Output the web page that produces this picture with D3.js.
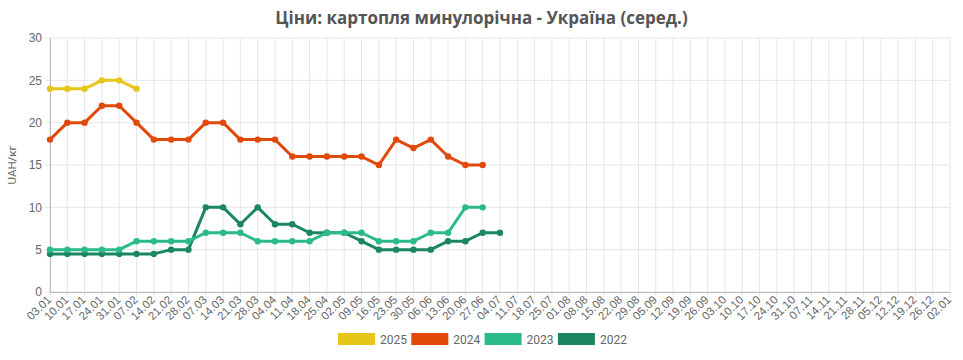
<!DOCTYPE html>
<html>
<head>
<meta charset="utf-8">
<script src="https://cdn.jsdelivr.net/npm/d3@7"></script>
<style>
  body { margin: 0; background: #fff; }
  svg { display: block; font-family: Roboto, "Open Sans", sans-serif; }
  .grid line { stroke: #e6e6e6; stroke-width: 1; }
  .tick text { fill: #666; }
</style>
</head>
<body>
<div id="chart"></div>
<script>
// categories: weekly dates
var weeks = ["03.01","10.01","17.01","24.01","31.01","07.02","14.02","21.02","28.02","07.03",
  "14.03","21.03","28.03","04.04","11.04","18.04","25.04","02.05","09.05","16.05",
  "23.05","30.05","06.06","13.06","20.06","27.06","04.07","11.07","18.07","25.07",
  "01.08","08.08","15.08","22.08","29.08","05.09","12.09","19.09","26.09","03.10",
  "10.10","17.10","24.10","31.10","07.11","14.11","21.11","28.11","05.12","12.12",
  "19.12","26.12","02.01"];

var years = ["2025", "2024", "2023", "2022"];
var colors = ["#e5c619", "#e3480b", "#2bbb89", "#1b8662"];

var v2025 = [24, 24, 24, 25, 25, 24];
var v2024 = [18, 20, 20, 22, 22, 20, 18, 18, 18, 20, 20, 18, 18, 18, 16, 16, 16, 16, 16, 15, 18, 17, 18, 16, 15, 15];
var v2023 = [5, 5, 5, 5, 5, 6, 6, 6, 6, 7, 7, 7, 6, 6, 6, 6, 7, 7, 7, 6, 6, 6, 7, 7, 10, 10];
var v2022 = [4.5, 4.5, 4.5, 4.5, 4.5, 4.5, 4.5, 5, 5, 10, 10, 8, 10, 8, 8, 7, 7, 7, 6, 5, 5, 5, 5, 6, 6, 7, 7];

var yTicks = [0, 5, 10, 15, 20, 25, 30];

var series = [v2025, v2024, v2023, v2022].map(function(vals, i) {
  return { name: years[i], color: colors[i], values: vals };
});

var W = 963, H = 360;
var margin = { top: 38, right: 13, bottom: 68, left: 50 };

var svg = d3.select("#chart").append("svg")
  .attr("width", W)
  .attr("height", H);

var x = d3.scalePoint()
  .domain(weeks)
  .range([margin.left, W - margin.right]);

var y = d3.scaleLinear()
  .domain([0, 30])
  .range([H - margin.bottom, margin.top]);

// title
svg.append("text")
  .attr("x", W / 2)
  .attr("y", 24)
  .attr("text-anchor", "middle")
  .style("font-family", "'Open Sans', sans-serif")
  .style("font-weight", "700")
  .style("font-size", "17px")
  .style("fill", "#555")
  .text("Ціни: картопля минулорічна - Україна (серед.)");

// grid
var grid = svg.append("g").attr("class", "grid");
grid.selectAll("line.v")
  .data(weeks)
  .enter().append("line")
  .attr("x1", function(d) { return x(d); })
  .attr("x2", function(d) { return x(d); })
  .attr("y1", margin.top)
  .attr("y2", H - margin.bottom + 5);
grid.selectAll("line.h")
  .data(yTicks)
  .enter().append("line")
  .attr("x1", margin.left - 5)
  .attr("x2", W - margin.right)
  .attr("y1", function(d) { return y(d); })
  .attr("y2", function(d) { return y(d); });

// axes
var yAxis = svg.append("g")
  .attr("transform", "translate(" + margin.left + ",0)")
  .call(d3.axisLeft(y).tickValues(yTicks).tickSize(0).tickPadding(8));
yAxis.select(".domain").attr("stroke", "#bbb");
yAxis.selectAll("text").style("font-size", "12px");

var xAxis = svg.append("g")
  .attr("transform", "translate(0," + (H - margin.bottom) + ")")
  .call(d3.axisBottom(x).tickSize(0));
xAxis.select(".domain").attr("stroke", "#bbb");
xAxis.selectAll("text")
  .style("font-size", "11.5px")
  .attr("text-anchor", "end")
  .attr("x", -5)
  .attr("y", 3)
  .attr("dy", "0.35em")
  .attr("transform", "rotate(-45)");

// y label
svg.append("text")
  .attr("transform", "translate(16," + (y(15)) + ") rotate(-90)")
  .attr("text-anchor", "middle")
  .style("font-size", "11.5px")
  .style("fill", "#666")
  .text("UAH/кг");

// lines
var line = d3.line()
  .x(function(d, i) { return x(weeks[i]); })
  .y(function(d) { return y(d); });

var drawOrder = series.slice().reverse();
var g = svg.selectAll("g.series")
  .data(drawOrder)
  .enter().append("g")
  .attr("class", "series");

g.append("path")
  .attr("d", function(d) { return line(d.values); })
  .attr("fill", "none")
  .attr("stroke", function(d) { return d.color; })
  .attr("stroke-width", 3)
  .attr("stroke-linejoin", "round");

g.selectAll("circle")
  .data(function(d) { return d.values.map(function(v, i) { return { v: v, i: i, c: d.color }; }); })
  .enter().append("circle")
  .attr("cx", function(d) { return x(weeks[d.i]); })
  .attr("cy", function(d) { return y(d.v); })
  .attr("r", 3.2)
  .attr("fill", function(d) { return d.c; });

// legend
var legend = svg.append("g").attr("transform", "translate(338,333)");
var item = legend.selectAll("g")
  .data(series)
  .enter().append("g")
  .attr("transform", function(d, i) { return "translate(" + (i * 73.3) + ",0)"; });
item.append("rect")
  .attr("width", 37)
  .attr("height", 12)
  .attr("fill", function(d) { return d.color; });
item.append("text")
  .attr("x", 42)
  .attr("y", 10.5)
  .style("font-size", "12px")
  .style("fill", "#666")
  .text(function(d) { return d.name; });
</script>
</body>
</html>
